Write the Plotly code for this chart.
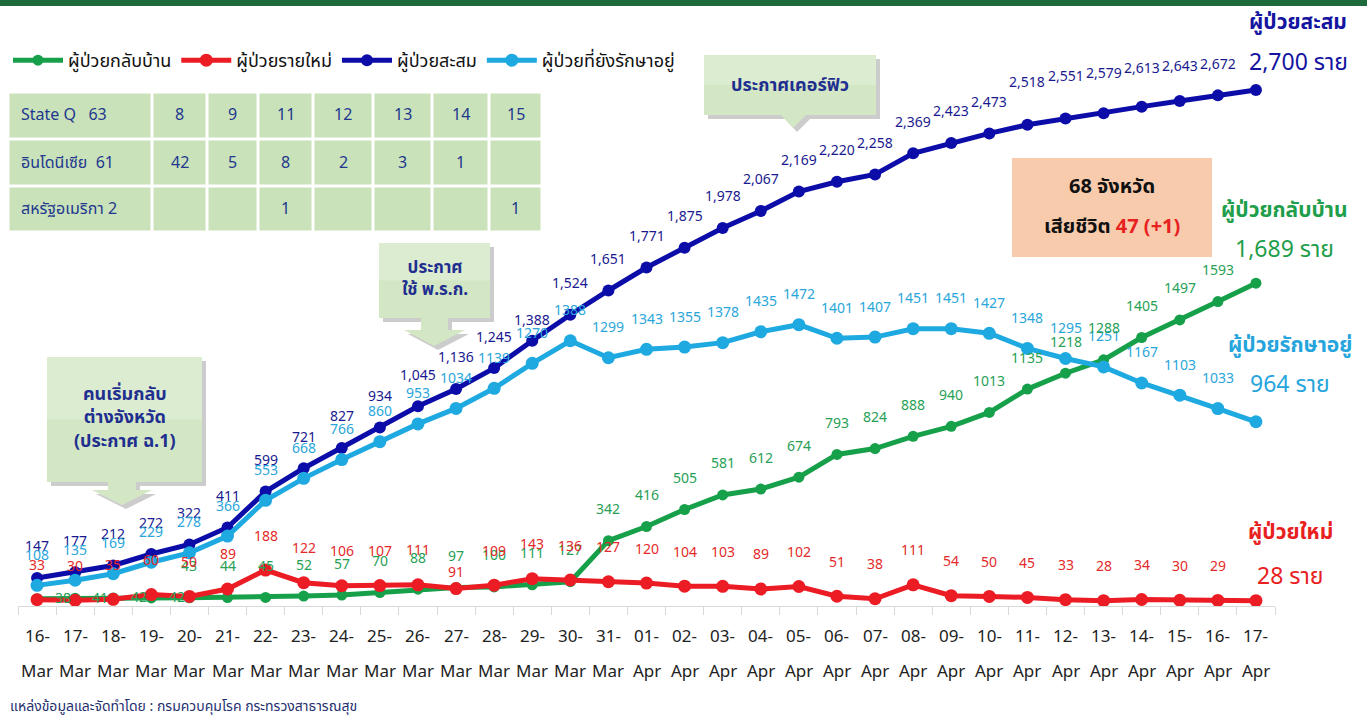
import plotly.graph_objects as go

# ---------------- data ----------------
dates = ["16-Mar", "17-Mar", "18-Mar", "19-Mar", "20-Mar", "21-Mar", "22-Mar", "23-Mar",
         "24-Mar", "25-Mar", "26-Mar", "27-Mar", "28-Mar", "29-Mar", "30-Mar", "31-Mar",
         "01-Apr", "02-Apr", "03-Apr", "04-Apr", "05-Apr", "06-Apr", "07-Apr", "08-Apr",
         "09-Apr", "10-Apr", "11-Apr", "12-Apr", "13-Apr", "14-Apr", "15-Apr", "16-Apr", "17-Apr"]

recovered = [38, 41, 42, 42, 43, 44, 45, 52, 57, 70, 88, 97, 100, 111, 127, 342, 416, 505,
             581, 612, 674, 793, 824, 888, 940, 1013, 1135, 1218, 1288, 1405, 1497, 1593, 1689]
new_cases = [33, 30, 35, 60, 50, 89, 188, 122, 106, 107, 111, 91, 109, 143, 136, 127, 120, 104,
             103, 89, 102, 51, 38, 111, 54, 50, 45, 33, 28, 34, 30, 29, 28]
cumulative = [147, 177, 212, 272, 322, 411, 599, 721, 827, 934, 1045, 1136, 1245, 1388, 1524,
              1651, 1771, 1875, 1978, 2067, 2169, 2220, 2258, 2369, 2423, 2473, 2518, 2551,
              2579, 2613, 2643, 2672, 2700]
active = [108, 135, 169, 229, 278, 366, 553, 668, 766, 860, 953, 1034, 1139, 1270, 1388, 1299,
          1343, 1355, 1378, 1435, 1472, 1401, 1407, 1451, 1451, 1427, 1348, 1295, 1251, 1167,
          1103, 1033, 964]

series_names = ["ผู้ป่วยกลับบ้าน", "ผู้ป่วยรายใหม่", "ผู้ป่วยสะสม", "ผู้ป่วยที่ยังรักษาอยู่"]

table_row_labels = ["State Q   63", "อินโดนีเซีย  61", "สหรัฐอเมริกา 2"]
table_values = [["8", "9", "11", "12", "13", "14", "15"],
                ["42", "5", "8", "2", "3", "1", ""],
                ["", "", "1", "", "", "", "1"]]

end_titles = ["ผู้ป่วยสะสม", "ผู้ป่วยกลับบ้าน", "ผู้ป่วยรักษาอยู่", "ผู้ป่วยใหม่"]
end_values = ["2,700 ราย", "1,689 ราย", "964 ราย", "28 ราย"]
province_text = "68 จังหวัด"
death_text = "เสียชีวิต"
death_value = "47 (+1)"
callout_texts = ["ประกาศเคอร์ฟิว", "ประกาศ<br>ใช้ พ.ร.ก.", "คนเริ่มกลับ<br>ต่างจังหวัด<br>(ประกาศ ฉ.1)"]
source_text = "แหล่งข้อมูลและจัดทำโดย : กรมควบคุมโรค กระทรวงสาธารณสุข"

# ---------------- style ----------------
W, H = 1367, 719
FONT = "Tahoma, 'Noto Sans Thai', 'Noto Sans Thai UI', Loma, Garuda, 'DejaVu Sans', sans-serif"
C_GREEN, C_RED, C_DBLUE, C_LBLUE = "#17a04a", "#ec1c24", "#0c0ca8", "#1fa9e1"
L_GREEN, L_RED, L_DBLUE, L_LBLUE = "#27a055", "#e42a2a", "#1a1a90", "#2aa6da"
NAVY = "#22378f"

X0, X1 = 18, 1275      # plot area in pixels
Y0, Y1 = 13, 606
YMAX = 3103


def px(x):
    return x / W


def py(y):
    return 1 - y / H


fig = go.Figure()

trace_specs = [
    (series_names[0], recovered, C_GREEN, 11),
    (series_names[1], new_cases, C_RED, 13),
    (series_names[2], cumulative, C_DBLUE, 12),
    (series_names[3], active, C_LBLUE, 13),
]
for name, vals, col, ms in trace_specs:
    fig.add_trace(go.Scatter(
        x=dates, y=vals, name=name, mode="lines+markers",
        line=dict(color=col, width=5), marker=dict(color=col, size=ms),
        hoverinfo="x+y+name"))

annotations = []


def ann(x, y, text, size, color, xref="paper", yref="paper", xanchor="center", **kw):
    d = dict(x=x, y=y, xref=xref, yref=yref, text=text, showarrow=False,
             xanchor=xanchor, yanchor="middle",
             font=dict(family=FONT, size=size, color=color))
    d.update(kw)
    annotations.append(d)


def add_labels(vals, color, fmt, dy, overrides=None, xs=None):
    # the last point is labelled by the big title on the right instead
    overrides = overrides or {}
    xs = xs or {}
    for i, v in enumerate(vals[:-1]):
        ann(dates[i], v, fmt(v), 14, color, xref="x", yref="y",
            yshift=overrides.get(i, dy), xshift=xs.get(i, 0))


add_labels(cumulative, L_DBLUE, lambda v: f"{v:,}", 31,
           {13: 20, 26: 42, 27: 42, 28: 40, 29: 38, 30: 34})
add_labels(active, L_LBLUE, lambda v: f"{v}", 30)
add_labels(recovered, L_GREEN, lambda v: f"{v}", 31,
           {0: 0, 1: 0, 2: 0, 3: 0}, {0: 26, 1: 25, 2: 26, 3: 26})
add_labels(new_cases, L_RED, lambda v: f"{v}", 34, {11: 16})

# x tick labels in two rows
for d in dates:
    day, mon = d.split("-")
    ann(d, py(637), day + "-", 17, "#222222", xref="x")
    ann(d, py(672), mon, 17, "#222222", xref="x")

shapes = []
# top dark green bar
shapes.append(dict(type="rect", xref="paper", yref="paper", x0=0, x1=1, y0=py(6), y1=1,
                   fillcolor="#1d6a3a", line=dict(width=0), layer="below"))

# table
col_edges = [8, 152, 207, 258, 313, 373, 432, 489, 542]
row_edges = [92, 139, 186, 232]
for r in range(3):
    for c in range(8):
        shapes.append(dict(type="rect", xref="paper", yref="paper",
                           x0=px(col_edges[c] + 1.5), x1=px(col_edges[c + 1] - 1.5),
                           y0=py(row_edges[r + 1] - 1.5), y1=py(row_edges[r] + 1.5),
                           fillcolor="#c9e2b9", line=dict(width=0), layer="below"))
    yc = (row_edges[r] + row_edges[r + 1]) / 2
    ann(px(col_edges[0] + 11), py(yc), table_row_labels[r], 16, NAVY, xanchor="left")
    for c in range(7):
        if table_values[r][c]:
            ann(px((col_edges[c + 1] + col_edges[c + 2]) / 2), py(yc), table_values[r][c], 16, NAVY)


def poly(points):
    return "M " + " L ".join(f"{px(x)},{py(y)}" for x, y in points) + " Z"


def callout(box, stem, head, tip, text, size, text_y):
    x0, y0, x1, y1 = box
    pts = [(x0, y0), (x1, y0), (x1, y1)]
    if stem:
        pts += [(stem[1], y1), (stem[1], stem[2]), (head[1], stem[2]), tip,
                (head[0], stem[2]), (stem[0], stem[2]), (stem[0], y1)]
    else:
        pts += [(head[1], y1), tip, (head[0], y1)]
    pts += [(x0, y1)]
    shadow = [(x + 4, y + 4) for x, y in pts]
    shapes.append(dict(type="path", path=poly(shadow), xref="paper", yref="paper",
                       fillcolor="rgba(110,110,110,0.35)", line=dict(width=0), layer="above"))
    shapes.append(dict(type="path", path=poly(pts), xref="paper", yref="paper",
                       fillcolor="#d3e7c5", line=dict(width=0), layer="above"))
    shapes.append(dict(type="rect", xref="paper", yref="paper", x0=px(x0), x1=px(x1),
                       y0=py(y0 + (y1 - y0) * 0.5), y1=py(y0),
                       fillcolor="rgba(255,255,255,0.22)", line=dict(width=0), layer="above"))
    ann(px((x0 + x1) / 2), py(text_y), f"<b>{text}</b>", size, "#1f2f8f")


callout((704, 55, 876, 115), None, (781, 806), (793, 128), callout_texts[0], 18, 85)
callout((379, 243, 490, 318), (421, 448, 330), (404, 465), (434, 346), callout_texts[1], 17, 279)
callout((47, 357, 202, 482), (108, 136, 490), (92, 152), (122, 505), callout_texts[2], 18, 418)

# orange box
shapes.append(dict(type="rect", xref="paper", yref="paper", x0=px(1012), x1=px(1212),
                   y0=py(257), y1=py(158), fillcolor="#f8cbad", line=dict(width=0), layer="above"))
ann(px(1112), py(187), f"<b>{province_text}</b>", 20, "#111111")
ann(px(1112), py(227), f"<b>{death_text} <span style='color:#e8211f'>{death_value}</span></b>",
    20, "#111111")

# right-side series titles
end_specs = [(1298, 22, 63, "#1414a0"), (1284, 210, 250, "#1f9e4b"),
             (1290, 345, 385, "#26a4dc"), (1290, 532, 577, "#e8211f")]
for k, (xc, yt, yv, tc) in enumerate(end_specs):
    ann(px(xc), py(yt), f"<b>{end_titles[k]}</b>", 21, tc)
    ann(px(xc), py(yv), end_values[k], 23, tc)

ann(px(8), py(706), source_text, 14, "#1f2f6f", xanchor="left")

fig.update_layout(
    width=W, height=H, margin=dict(l=0, r=0, t=0, b=0),
    paper_bgcolor="white", plot_bgcolor="white",
    font=dict(family=FONT, size=14, color="#222222"),
    showlegend=True,
    legend=dict(orientation="h", x=px(8), y=py(42), xanchor="left", yanchor="top",
                font=dict(family=FONT, size=18, color="#111111"),
                bgcolor="rgba(0,0,0,0)", itemwidth=50, traceorder="normal"),
    xaxis=dict(domain=[px(X0), px(X1)], type="category", range=[-0.5, len(dates) - 0.5],
               showticklabels=False, showgrid=False, zeroline=False,
               showline=True, linecolor="#d9d9d9", linewidth=1,
               ticks="outside", tickson="boundaries", ticklen=8, tickcolor="#d9d9d9"),
    yaxis=dict(domain=[py(Y1), py(Y0)], range=[0, YMAX], visible=False),
    annotations=annotations, shapes=shapes,
)

fig.write_html("out.html", config={"displayModeBar": False},
               post_script="document.body.style.margin='0px';document.body.style.overflow='hidden';")
